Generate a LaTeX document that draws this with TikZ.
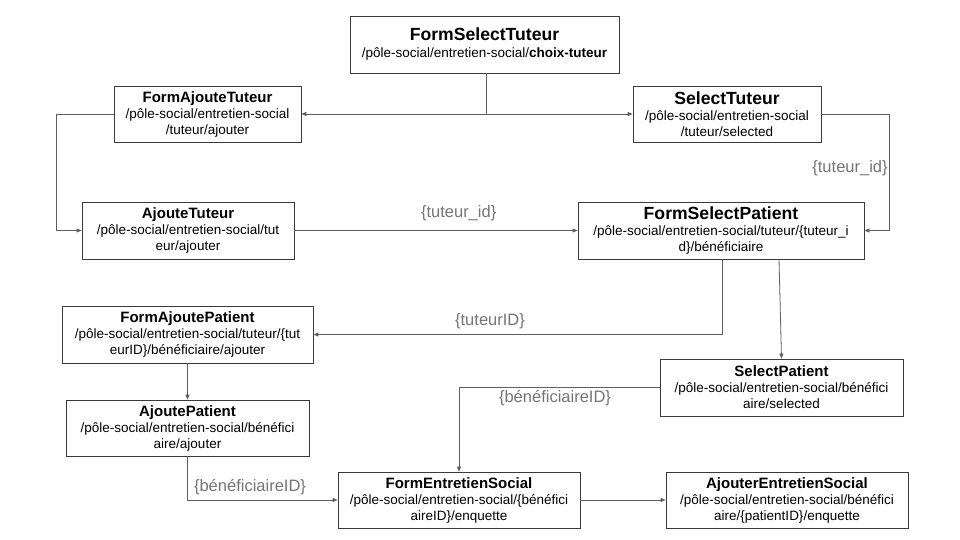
\documentclass[tikz,border=0pt]{standalone}
\usepackage{fontspec}
\setmainfont{Liberation Sans}
\usetikzlibrary{arrows.meta,calc}
\definecolor{linec}{HTML}{5F5F5F}
\definecolor{labc}{HTML}{757575}
\definecolor{boxc}{HTML}{3A3A3A}
\newcommand{\bigtitle}[1]{{\fontsize{17.6}{19}\selectfont\bfseries #1}}
\newcommand{\smalltitle}[1]{{\fontsize{15}{17}\selectfont\bfseries #1}}
\begin{document}
\begin{tikzpicture}[x=1pt,y=-1pt,
  box/.style={draw=boxc,line width=0.8pt,rectangle,inner sep=0pt,align=center,
    font=\fontsize{13.5}{16}\selectfont},
  conn/.style={draw=linec,line width=0.8pt,-{Triangle[length=5pt,width=4pt]}},
  lab/.style={text=labc,font=\fontsize{16.5}{18}\selectfont,inner sep=0pt}]
\useasboundingbox (0,0) rectangle (960,540);
\fill[white] (0,0) rectangle (960,540);

\node[box,minimum width=269pt,minimum height=57pt] (FST) at (484.5,44.5)
  {\bigtitle{FormSelectTuteur}\\[1pt]/pôle-social/entretien-social/\textbf{choix-tuteur}};
\node[box,minimum width=187pt,minimum height=56pt] (FAT) at (207.5,114)
  {\smalltitle{FormAjouteTuteur}\\/pôle-social/entretien-social\\/tuteur/ajouter};
\node[box,minimum width=188pt,minimum height=56pt] (ST) at (727,114)
  {\bigtitle{SelectTuteur}\\/pôle-social/entretien-social\\/tuteur/selected};
\node[box,minimum width=212pt,minimum height=57pt] (AT) at (188,230.5)
  {\smalltitle{AjouteTuteur}\\/pôle-social/entretien-social/tut\\eur/ajouter};
\node[box,minimum width=286pt,minimum height=57pt] (FSP) at (721,230.5)
  {\bigtitle{FormSelectPatient}\\/pôle-social/entretien-social/tuteur/\{tuteur\_i\\d\}/bénéficiaire};
\node[box,minimum width=251pt,minimum height=57pt] (FAP) at (187.5,334.5)
  {\smalltitle{FormAjoutePatient}\\/pôle-social/entretien-social/tuteur/\{tut\\eurID\}/bénéficiaire/ajouter};
\node[box,minimum width=243pt,minimum height=56pt] (AP) at (187.5,428)
  {\smalltitle{AjoutePatient}\\/pôle-social/entretien-social/bénéfici\\aire/ajouter};
\node[box,minimum width=243pt,minimum height=57pt] (SP) at (781.5,387.5)
  {\smalltitle{SelectPatient}\\/pôle-social/entretien-social/bénéfici\\aire/selected};
\node[box,minimum width=242pt,minimum height=56pt] (FES) at (459,500)
  {\smalltitle{FormEntretienSocial}\\/pôle-social/entretien-social/\{bénéfici\\aireID\}/enquette};
\node[box,minimum width=242pt,minimum height=56pt] (AES) at (787,500)
  {\smalltitle{AjouterEntretienSocial}\\/pôle-social/entretien-social/bénéfici\\aire/\{patientID\}/enquette};

% connectors
\draw[conn] ([xshift=1.5pt]FST.south) |- (FAT.east);
\draw[conn] ([xshift=1.5pt]FST.south) |- (ST.west);
\draw[conn] (FAT.west) -- ++(-57,0) |- (AT.west);
\draw[conn] (AT.east) -- node[lab,above=9pt,pos=0.58] (l1) {\{tuteur\_id\}} (FSP.east -| FSP.west);
\draw[conn] (ST.east) -- ++(68,0) |- (FSP.east);
\node[lab] (l2) at (850,168) {\{tuteur\_id\}};
\draw[conn] ([xshift=1pt]FSP.south) |- (FAP.east);
\node[lab] (l3) at (490,321) {\{tuteurID\}};
\draw[conn] ([xshift=58pt]FSP.south) -- (SP.north);
\draw[conn] (FAP.south) -- (AP.north);
\draw[conn] (AP.south) |- (FES.west);
\node[lab] (l4) at (250,487) {\{bénéficiaireID\}};
\draw[conn] (SP.west) -| (FES.north);
\node[lab] (l5) at (555,398) {\{bénéficiaireID\}};
\draw[conn] (FES.east) -- (AES.west);
\end{tikzpicture}
\end{document}
